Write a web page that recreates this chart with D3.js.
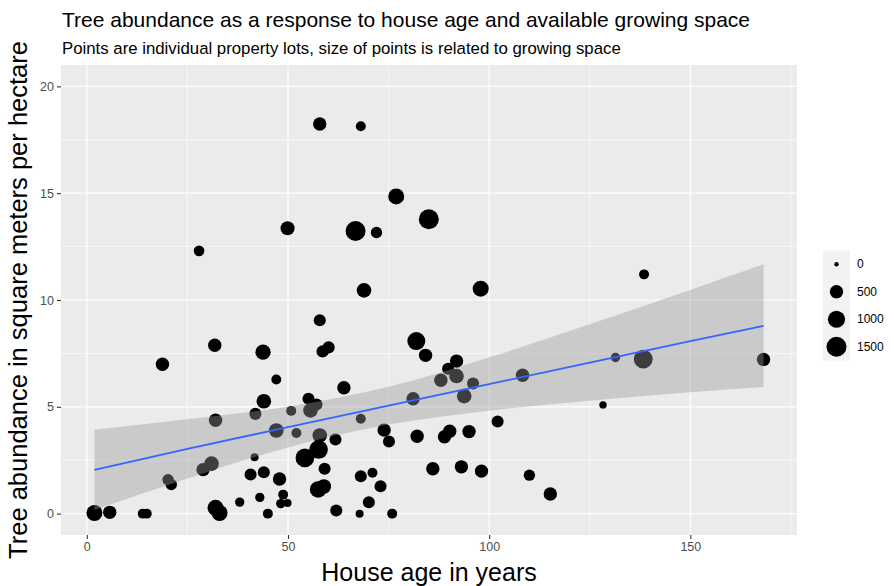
<!DOCTYPE html>
<html>
<head>
<meta charset="utf-8">
<script src="https://cdn.jsdelivr.net/npm/d3@7"></script>
<style>
  body { margin: 0; background: #fff; }
  text { font-family: "Liberation Sans", Arial, sans-serif; }
</style>
</head>
<body>
<svg id="chart" width="894" height="586"></svg>
<script>
// values (one entry per property lot)
const houseAge = [
  57.9, 68.1, 76.9, 85.0, 66.8, 72.0, 49.9, 27.9, 138.5, 97.9,
  68.9, 57.9, 81.9, 84.2, 31.8, 43.8, 58.6, 60.1, 18.8, 131.4,
  138.3, 168.2, 108.3, 63.9, 91.9, 89.8, 88.0, 91.9, 96.0, 93.8,
  81.1, 47.1, 44.0, 41.9, 50.8, 55.1, 57.1, 55.6, 68.1, 32.0,
  102.1, 128.3, 47.1, 52.1, 57.9, 61.8, 73.9, 75.1, 82.1, 88.9,
  90.2, 95.0, 41.7, 54.2, 57.6, 28.9, 31.0, 20.2, 21.0, 40.7,
  44.0, 47.9, 59.1, 57.5, 58.9, 48.8, 48.2, 49.9, 43.0, 38.0,
  45.0, 62.0, 67.8, 75.9, 71.0, 68.1, 73.0, 70.1, 86.0, 93.1,
  98.1, 110.0, 115.2, 32.0, 33.0, 13.9, 14.9, 1.9, 5.7
];
const treeAbundance = [
  18.24, 18.13, 14.85, 13.78, 13.23, 13.16, 13.36, 12.30, 11.20, 10.53,
  10.45, 9.05, 8.08, 7.41, 7.88, 7.56, 7.59, 7.78, 6.99, 7.31,
  7.23, 7.22, 6.48, 5.89, 7.14, 6.78, 6.24, 6.44, 6.09, 5.50,
  5.38, 6.28, 5.26, 4.67, 4.81, 5.38, 5.11, 4.83, 4.44, 4.37,
  4.31, 5.09, 3.89, 3.77, 3.66, 3.47, 3.91, 3.38, 3.62, 3.60,
  3.86, 3.84, 2.64, 2.61, 3.00, 2.06, 2.34, 1.59, 1.36, 1.83,
  1.94, 1.62, 2.10, 1.13, 1.27, 0.89, 0.47, 0.50, 0.76, 0.54,
  0.00, 0.15, 0.00, 0.00, 1.91, 1.75, 1.28, 0.53, 2.10, 2.19,
  1.99, 1.80, 0.92, 0.27, 0.03, 0.00, 0.00, 0.03, 0.06
];
const growingSpace = [
  500, 190, 830, 1500, 1500, 300, 570, 240, 190, 830,
  640, 360, 1140, 500, 500, 730, 380, 380, 500, 150,
  1280, 500, 500, 500, 500, 360, 500, 640, 360, 640,
  500, 190, 640, 360, 190, 360, 360, 640, 190, 500,
  360, 55, 640, 190, 640, 360, 500, 360, 500, 500,
  500, 500, 80, 1250, 1250, 500, 640, 300, 300, 360,
  360, 500, 360, 920, 640, 190, 150, 80, 150, 150,
  190, 360, 80, 190, 190, 360, 360, 360, 500, 500,
  500, 300, 500, 830, 830, 190, 190, 830, 500
];

// linear fit and its confidence band
const smoothAge = [1.9, 25, 50, 75, 100, 125, 150, 168.2];
const smoothFit = [2.05, 3.03, 4.05, 5.06, 6.06, 7.07, 8.07, 8.79];
const smoothLower = [0.17, 1.64, 3.10, 4.17, 4.82, 5.28, 5.68, 5.93];
const smoothUpper = [3.93, 4.42, 5.00, 5.94, 7.31, 8.86, 10.47, 11.67];

const xTicks = [0, 50, 100, 150];
const yTicks = [0, 5, 10, 15, 20];
const sizeBreaks = [0, 500, 1000, 1500];

const panel = { left: 61, right: 797, top: 65, bottom: 535 };
const svg = d3.select('#chart');

// scales with ggplot's 5% expansion
const xExt = d3.extent(houseAge);
const xPad = (xExt[1] - xExt[0]) * 0.05;
const x = d3.scaleLinear()
  .domain([xExt[0] - xPad, xExt[1] + xPad])
  .range([panel.left, panel.right]);

const yLim = [0, 20];
const yPad = (yLim[1] - yLim[0]) * 0.05;
const y = d3.scaleLinear()
  .domain([yLim[0] - yPad, yLim[1] + yPad])
  .range([panel.bottom, panel.top]);

const r = d3.scaleSqrt().domain([0, 1500]).range([2.2, 10]);

// panel background
svg.append('rect')
  .attr('x', panel.left)
  .attr('y', panel.top)
  .attr('width', panel.right - panel.left)
  .attr('height', panel.bottom - panel.top)
  .attr('fill', '#EBEBEB');

// minor grid sits halfway between the major breaks
const xStep = xTicks[1] - xTicks[0];
const yStep = yTicks[1] - yTicks[0];
const xMinor = d3.range(xTicks[0] - xStep / 2, x.domain()[1], xStep)
  .filter(v => v > x.domain()[0]);
const yMinor = d3.range(yTicks[0] - yStep / 2, y.domain()[1], yStep)
  .filter(v => v > y.domain()[0]);

const grid = svg.append('g');
grid.selectAll('.xminor').data(xMinor).join('line')
  .attr('x1', d => x(d)).attr('x2', d => x(d))
  .attr('y1', panel.top).attr('y2', panel.bottom)
  .attr('stroke', '#fff').attr('stroke-width', 0.6);
grid.selectAll('.yminor').data(yMinor).join('line')
  .attr('y1', d => y(d)).attr('y2', d => y(d))
  .attr('x1', panel.left).attr('x2', panel.right)
  .attr('stroke', '#fff').attr('stroke-width', 0.6);
grid.selectAll('.xmajor').data(xTicks).join('line')
  .attr('x1', d => x(d)).attr('x2', d => x(d))
  .attr('y1', panel.top).attr('y2', panel.bottom)
  .attr('stroke', '#fff').attr('stroke-width', 1.2);
grid.selectAll('.ymajor').data(yTicks).join('line')
  .attr('y1', d => y(d)).attr('y2', d => y(d))
  .attr('x1', panel.left).attr('x2', panel.right)
  .attr('stroke', '#fff').attr('stroke-width', 1.2);

// points
const points = houseAge.map((a, i) => ({ age: a, trees: treeAbundance[i], space: growingSpace[i] }));
svg.append('g')
  .selectAll('circle')
  .data(points)
  .join('circle')
  .attr('cx', d => x(d.age))
  .attr('cy', d => y(d.trees))
  .attr('r', d => r(d.space))
  .attr('fill', '#000');

// confidence band, then the fit line on top
const band = smoothAge.map((a, i) => ({ age: a, fit: smoothFit[i], lo: smoothLower[i], hi: smoothUpper[i] }));
svg.append('path')
  .datum(band)
  .attr('d', d3.area()
    .x(d => x(d.age))
    .y0(d => y(d.lo))
    .y1(d => y(d.hi))
    .curve(d3.curveMonotoneX))
  .attr('fill', '#999999')
  .attr('fill-opacity', 0.4);

svg.append('path')
  .datum(band)
  .attr('d', d3.line().x(d => x(d.age)).y(d => y(d.fit)))
  .attr('fill', 'none')
  .attr('stroke', '#3366FF')
  .attr('stroke-width', 1.8);

// axes
const xAxis = svg.append('g')
  .attr('transform', `translate(0,${panel.bottom})`)
  .call(d3.axisBottom(x).tickValues(xTicks).tickSize(4).tickPadding(3));
const yAxis = svg.append('g')
  .attr('transform', `translate(${panel.left},0)`)
  .call(d3.axisLeft(y).tickValues(yTicks).tickSize(4).tickPadding(3));

[xAxis, yAxis].forEach(ax => {
  ax.select('.domain').remove();
  ax.selectAll('line').attr('stroke', '#333333').attr('stroke-width', 1.1);
  ax.selectAll('text')
    .attr('fill', '#4D4D4D')
    .style('font-size', '12.5px')
    .style('font-family', '"Liberation Sans", Arial, sans-serif');
});

// titles
svg.append('text')
  .attr('x', 62).attr('y', 27)
  .style('font-size', '21px')
  .text('Tree abundance as a response to house age and available growing space');

svg.append('text')
  .attr('x', 62).attr('y', 54)
  .style('font-size', '16.8px')
  .text('Points are individual property lots, size of points is related to growing space');

svg.append('text')
  .attr('x', (panel.left + panel.right) / 2)
  .attr('y', 581)
  .attr('text-anchor', 'middle')
  .style('font-size', '25px')
  .text('House age in years');

svg.append('text')
  .attr('transform', `translate(27,${(panel.top + panel.bottom) / 2}) rotate(-90)`)
  .attr('text-anchor', 'middle')
  .style('font-size', '25.5px')
  .text('Tree abundance in square meters per hectare');

// size legend
const keyTop = 250.5, keyH = 27.5, keyX = 823, keyW = 27;
const legend = svg.append('g');
legend.selectAll('rect')
  .data(sizeBreaks)
  .join('rect')
  .attr('x', keyX)
  .attr('y', (d, i) => keyTop + i * keyH)
  .attr('width', keyW)
  .attr('height', keyH)
  .attr('fill', '#F2F2F2');
legend.selectAll('circle')
  .data(sizeBreaks)
  .join('circle')
  .attr('cx', keyX + keyW / 2)
  .attr('cy', (d, i) => keyTop + (i + 0.5) * keyH)
  .attr('r', d => r(d))
  .attr('fill', '#000');
legend.selectAll('text')
  .data(sizeBreaks)
  .join('text')
  .attr('x', keyX + keyW + 7)
  .attr('y', (d, i) => keyTop + (i + 0.5) * keyH)
  .attr('dy', '0.35em')
  .style('font-size', '12px')
  .text(d => d);
</script>
</body>
</html>
